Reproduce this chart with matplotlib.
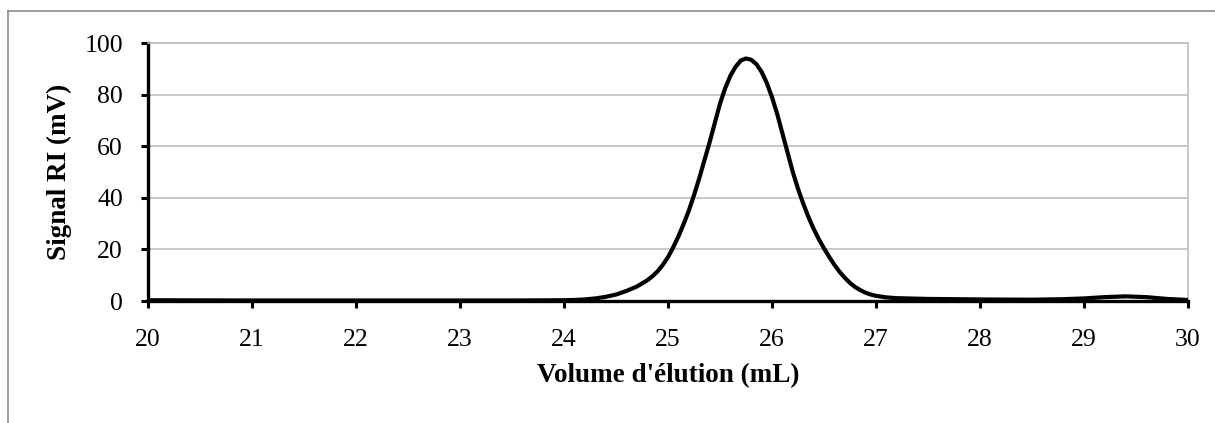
import matplotlib
matplotlib.use("Agg")
import matplotlib.pyplot as plt
from matplotlib.lines import Line2D

volume = [20.0, 21.0, 22.0, 23.0, 23.5, 24.0, 24.1, 24.2, 24.3, 24.4, 24.5,
          24.6, 24.7, 24.8, 24.85, 24.9, 24.95, 25.0, 25.05, 25.1, 25.15,
          25.2, 25.25, 25.3, 25.35, 25.4, 25.45, 25.5, 25.55, 25.6, 25.65,
          25.7, 25.75, 25.8, 25.85, 25.9, 25.95, 26.0, 26.05, 26.1, 26.15,
          26.2, 26.25, 26.3, 26.35, 26.4, 26.45, 26.5, 26.55, 26.6, 26.65,
          26.7, 26.75, 26.8, 26.85, 26.9, 26.95, 27.0, 27.1, 27.2, 27.5,
          28.0, 28.5, 28.8, 29.0, 29.2, 29.4, 29.6, 29.8, 30.0]
signal = [0.3, 0.2, 0.2, 0.2, 0.2, 0.3, 0.4, 0.6, 1.0, 1.6, 2.5,
          3.9, 5.6, 8.0, 9.6, 11.5, 14.0, 17.0, 20.8, 25.0, 29.8,
          35.0, 41.0, 47.5, 54.5, 61.5, 69.0, 76.5, 82.5, 87.3, 90.8,
          93.2, 94.0, 93.5, 91.8, 88.8, 84.5, 79.0, 72.5, 65.0, 57.5,
          50.0, 43.5, 37.8, 32.6, 28.0, 24.0, 20.4, 17.1, 14.0, 11.3,
          9.0, 7.0, 5.4, 4.2, 3.2, 2.5, 2.0, 1.4, 1.1, 0.8,
          0.6, 0.5, 0.7, 1.0, 1.5, 1.8, 1.5, 0.8, 0.4]

xticks = [20, 21, 22, 23, 24, 25, 26, 27, 28, 29, 30]
yticks = [0, 20, 40, 60, 80, 100]

plt.rcParams['font.family'] = ['Liberation Serif', 'DejaVu Serif']

fig = plt.figure(figsize=(12.15, 4.23), dpi=100)
ax = fig.add_axes([148 / 1215, 1 - 301 / 423, 1040 / 1215, 258 / 423])

ax.plot(volume, signal, color='black', lw=3.0, solid_joinstyle='round',
        solid_capstyle='butt', zorder=3)

ax.set_xlim(20, 30)
ax.set_ylim(0, 100)
ax.set_xticks(xticks)
ax.set_yticks(yticks)
ax.grid(axis='y', color='#bfbfbf', lw=1.2)
ax.set_axisbelow(True)

for s in ['left', 'bottom']:
    ax.spines[s].set_linewidth(2.4)
    ax.spines[s].set_color('black')
for s in ['top', 'right']:
    ax.spines[s].set_linewidth(1.2)
    ax.spines[s].set_color('#bfbfbf')
ax.spines['bottom'].set_zorder(4)

ax.tick_params(axis='both', direction='out', width=2.2, length=5, labelsize=18.5)
ax.tick_params(axis='y', pad=13)
ax.tick_params(axis='x', pad=15)

ax.set_xlabel("Volume d'élution (mL)", fontsize=19.5, fontweight='bold', labelpad=9)
ax.set_ylabel("Signal RI (mV)", fontsize=19.5, fontweight='bold', labelpad=9)

# bordure de la zone graphique
fig.add_artist(Line2D([8 / 1215, 1.0], [1 - 11 / 423, 1 - 11 / 423], color='#8c8c8c', lw=1.2))
fig.add_artist(Line2D([8 / 1215, 8 / 1215], [0.0, 1 - 11 / 423], color='#8c8c8c', lw=1.2))

fig.savefig("out.png", dpi=100)
